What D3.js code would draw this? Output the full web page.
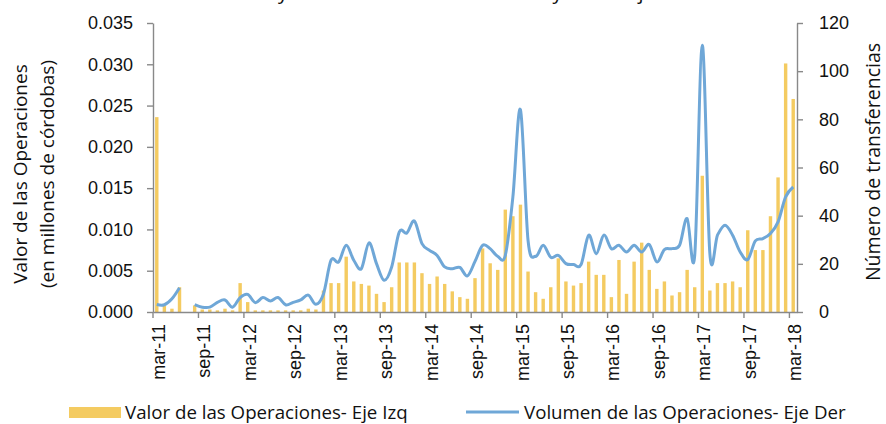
<!DOCTYPE html>
<html>
<head>
<meta charset="utf-8">
<script src="https://cdn.jsdelivr.net/npm/d3@7"></script>
<style>
  html, body { margin: 0; padding: 0; background: #fff; }
  svg { display: block; font-family: "Open Sans", sans-serif; }
  .axis path, .axis line { stroke: #898989; stroke-width: 1.4; }
  .axis text { fill: #111; font-size: 18px; }
</style>
</head>
<body>
<svg id="chart" width="886" height="424"></svg>
<script>
// meses mar-11 .. mar-18
const monthNames = ['ene', 'feb', 'mar', 'abr', 'may', 'jun', 'jul', 'ago', 'sep', 'oct', 'nov', 'dic'];
const years = ['11', '12', '13', '14', '15', '16', '17', '18'];

const tickLabels = ['mar-11', 'sep-11', 'mar-12', 'sep-12', 'mar-13', 'sep-13', 'mar-14', 'sep-14',
  'mar-15', 'sep-15', 'mar-16', 'sep-16', 'mar-17', 'sep-17', 'mar-18'];

// Valor de las Operaciones (millones de córdobas) - eje izquierdo
const valor = [
  0.0236, 0.0008, 0.0004, 0.0030, null, 0.0008, 0.0003, 0.0003, 0.0002, 0.0004,
  0.0002, 0.0035, 0.0012, 0.0002, 0.0002, 0.0002, 0.0002, 0.0002, 0.0002, 0.0002,
  0.0004, 0.0003, 0.0026, 0.0035, 0.0035, 0.0067, 0.0037, 0.0034, 0.0032, 0.0022,
  0.0012, 0.0030, 0.0060, 0.0060, 0.0060, 0.0047, 0.0034, 0.0043, 0.0034, 0.0025,
  0.0018, 0.0016, 0.0041, 0.0077, 0.0059, 0.0051, 0.0124, 0.0116, 0.0130, 0.0049,
  0.0024, 0.0016, 0.0030, 0.0065, 0.0037, 0.0032, 0.0035, 0.0061, 0.0045, 0.0045,
  0.0018, 0.0063, 0.0022, 0.0061, 0.0084, 0.0051, 0.0028, 0.0037, 0.0020, 0.0024,
  0.0051, 0.0030, 0.0165, 0.0026, 0.0035, 0.0035, 0.0037, 0.0030, 0.0099, 0.0075,
  0.0075, 0.0116, 0.0163, 0.0301, 0.0258
];

// Volumen de las Operaciones (número de transferencias) - eje derecho
const volumen = [
  3.1, 3.0, 5.5, 10.1, null, 3.1, 2.0, 2.0, 4.0, 5.0,
  2.0, 6.0, 7.3, 3.9, 6.0, 4.6, 6.0, 3.0, 4.0, 5.0,
  7.0, 3.2, 7.5, 21.5, 20.8, 27.7, 21.5, 18.0, 28.7, 20.1,
  13.2, 18.7, 33.2, 32.8, 37.8, 28.4, 25.6, 23.5, 18.7, 18.0,
  18.5, 15.0, 21.0, 27.7, 26.3, 23.1, 23.5, 47.8, 84.0, 29.8,
  23.1, 27.7, 22.7, 23.5, 20.1, 19.7, 19.7, 31.9, 24.2, 31.9,
  26.3, 27.7, 24.9, 27.7, 24.9, 28.0, 20.8, 25.9, 26.3, 27.7,
  38.8, 23.5, 110.8, 24.2, 31.9, 36.0, 31.9, 24.9, 21.8, 29.5,
  30.5, 32.6, 37.4, 47.8, 51.9
];

const leftTicks = [0, 0.005, 0.010, 0.015, 0.020, 0.025, 0.030, 0.035];
const rightTicks = [0, 20, 40, 60, 80, 100, 120];

const months = [];
years.forEach((yy) => monthNames.forEach((m) => months.push(`${m}-${yy}`)));
const categories = months.slice(months.indexOf('mar-11'), months.indexOf('mar-18') + 1);

const data = categories.map((c, i) => ({ month: c, valor: valor[i], volumen: volumen[i] }));

const svg = d3.select('#chart');
const margins = { top: 23, right: 89, bottom: 112, left: 153 };
const width = 886;
const height = 424;

const x = d3
  .scaleBand()
  .domain(categories)
  .range([margins.left, width - margins.right])
  .paddingInner(0.55)
  .paddingOuter(0.275);

const yLeft = d3
  .scaleLinear()
  .domain([0, 0.035])
  .range([height - margins.bottom, margins.top]);

const yRight = d3
  .scaleLinear()
  .domain([0, 120])
  .range([height - margins.bottom, margins.top]);

const step = x.step();
const cx = (m) => x(m) + x.bandwidth() / 2;

// título (cortado en la parte superior)
const title = svg
  .append('text')
  .attr('x', 0)
  .attr('y', -1)
  .attr('font-size', 20)
  .attr('fill', '#111')
  .text('Evolución del Valor y Volumen de Transferencias y de las Ejecuciones');
const yPos = title.node().getStartPositionOfChar(title.text().indexOf(' y ') + 1).x;
title.attr('x', 278 - yPos);

// barras
svg
  .append('g')
  .selectAll('rect')
  .data(data.filter((d) => d.valor != null))
  .join('rect')
  .attr('x', (d) => x(d.month))
  .attr('y', (d) => yLeft(d.valor))
  .attr('width', x.bandwidth())
  .attr('height', (d) => yLeft(0) - yLeft(d.valor))
  .attr('fill', '#F4CB61');

// línea suavizada
const line = d3
  .line()
  .defined((d) => d.volumen != null)
  .x((d) => cx(d.month))
  .y((d) => yRight(d.volumen))
  .curve(d3.curveCatmullRom.alpha(0));

svg
  .append('path')
  .datum(data)
  .attr('fill', 'none')
  .attr('stroke', '#6FA7D7')
  .attr('stroke-width', 3)
  .attr('stroke-linejoin', 'round')
  .attr('d', line);

// ejes
svg
  .append('g')
  .attr('class', 'axis')
  .attr('transform', `translate(${margins.left}, 0)`)
  .call(d3.axisLeft(yLeft).tickValues(leftTicks).tickFormat(d3.format('.3f')).tickSize(6).tickSizeOuter(0).tickPadding(14));

svg
  .append('g')
  .attr('class', 'axis')
  .attr('transform', `translate(${width - margins.right}, 0)`)
  .call(d3.axisRight(yRight).tickValues(rightTicks).tickSize(6).tickSizeOuter(0).tickPadding(16));

const xAxis = svg
  .append('g')
  .attr('class', 'axis')
  .attr('transform', `translate(0, ${height - margins.bottom})`)
  .call(d3.axisBottom(x).tickValues(tickLabels).tickSize(6).tickSizeOuter(0));

xAxis.selectAll('.tick line').attr('x1', -step / 2).attr('x2', -step / 2);
xAxis
  .selectAll('.tick text')
  .attr('transform', 'rotate(-90)')
  .attr('text-anchor', 'end')
  .attr('x', -12)
  .attr('y', 0)
  .attr('dy', '0.45em');

// títulos de ejes
const yTitle = svg
  .append('text')
  .attr('transform', 'translate(27, 174) rotate(-90)')
  .attr('text-anchor', 'middle')
  .attr('font-size', 19)
  .attr('fill', '#111');
yTitle.append('tspan').attr('x', 0).attr('dy', 0).text('Valor de las Operaciones');
yTitle.append('tspan').attr('x', 0).attr('dy', 27).text('(en millones de córdobas)');

svg
  .append('text')
  .attr('transform', 'translate(880, 162) rotate(-90)')
  .attr('text-anchor', 'middle')
  .attr('font-size', 19.5)
  .attr('fill', '#111')
  .text('Número de transferencias');

// leyenda
const legend = svg.append('g').attr('font-size', 18.7).attr('fill', '#111');
legend.append('rect').attr('x', 69).attr('y', 407).attr('width', 52).attr('height', 11).attr('fill', '#F4CB61');
legend.append('text').attr('x', 125).attr('y', 419).text('Valor de las Operaciones- Eje Izq');
legend
  .append('line')
  .attr('x1', 466)
  .attr('x2', 519)
  .attr('y1', 412)
  .attr('y2', 412)
  .attr('stroke', '#6FA7D7')
  .attr('stroke-width', 3);
legend.append('text').attr('x', 524).attr('y', 419).text('Volumen de las Operaciones- Eje Der');
</script>
</body>
</html>
